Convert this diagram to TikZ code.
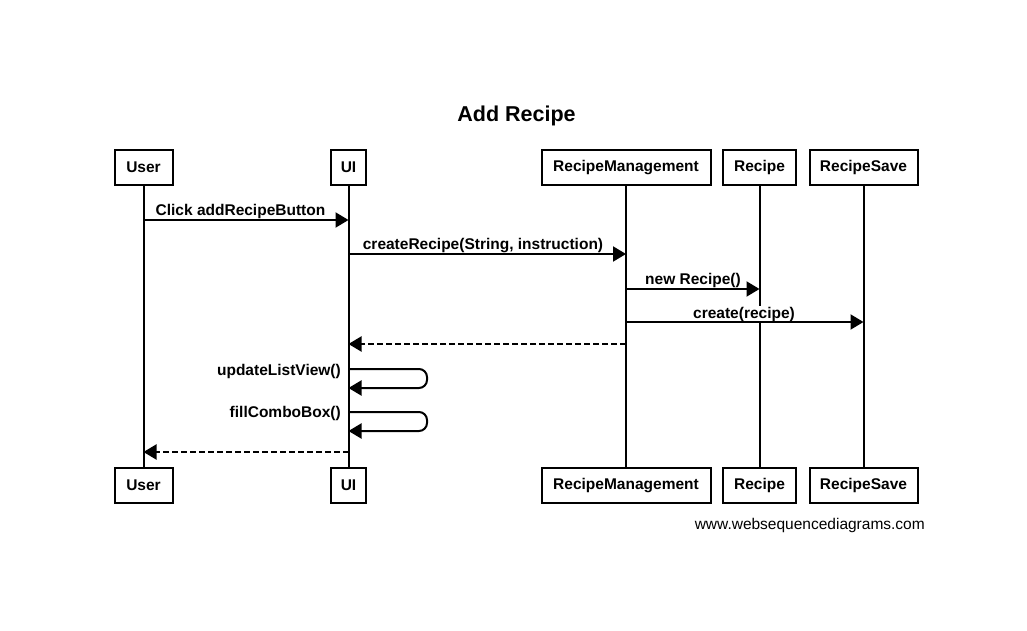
\documentclass[tikz,border=0pt]{standalone}
\usepackage{fontspec}
\setmainfont{Liberation Sans}
\usetikzlibrary{arrows.meta}
\begin{document}
\begin{tikzpicture}[x=1pt,y=-1pt,
  actor/.style={draw, line width=2pt, minimum height=35pt, inner sep=0pt, fill=white,
    font=\fontsize{15.5}{18}\selectfont\bfseries},
  life/.style={line width=2pt},
  msg/.style={line width=2pt, -{Triangle[length=13pt,width=15pt]}},
  ret/.style={msg, dash pattern=on 6pt off 3pt},
  lbl/.style={font=\fontsize{15.5}{18}\selectfont\bfseries, anchor=base, fill=white, inner sep=1pt},
]
\useasboundingbox (0,0) rectangle (1027,631);
\node[font=\fontsize{21.5}{24}\selectfont\bfseries] (title) at (516.5,115.5) {Add Recipe};

% top boxes
\node[actor, minimum width=58pt]  (userT) at (143.5,167.5) {User};
\node[actor, minimum width=35pt]  (uiT)   at (348.5,167.5) {UI};
\node[actor, minimum width=169pt] (rmT)   at (626,167.5) {RecipeManagement};
\node[actor, minimum width=73pt]  (recT)  at (759.5,167.5) {Recipe};
\node[actor, minimum width=108pt] (rsT)   at (863.5,167.5) {RecipeSave};
% bottom boxes
\node[actor, minimum width=58pt]  (userB) at (143.5,485.5) {User};
\node[actor, minimum width=35pt]  (uiB)   at (348.5,485.5) {UI};
\node[actor, minimum width=169pt] (rmB)   at (626,485.5) {RecipeManagement};
\node[actor, minimum width=73pt]  (recB)  at (759.5,485.5) {Recipe};
\node[actor, minimum width=108pt] (rsB)   at (863.5,485.5) {RecipeSave};

% lifelines
\draw[life] (userT.south) -- (userB.north);
\draw[life] (uiT.south) -- (uiB.north);
\draw[life] (rmT.south) -- (rmB.north);
\draw[life] (recT.south) -- (recB.north);
\draw[life] (rsT.south) -- (rsB.north);

% labels
\node[lbl] (l1) at (240.5,215) {Click addRecipeButton};
\node[lbl] (l2) at (483,249.5) {createRecipe(String, instruction)};
\node[lbl] (l3) at (693,284.5) {new Recipe()};
\node[lbl] (l4) at (744,318) {create(recipe)};
\node[lbl, anchor=base east] (l5) at (342,375) {updateListView()};
\node[lbl, anchor=base east] (l6) at (342,417.5) {fillComboBox()};

% messages
\draw[msg] (userT |- 0,220) -- (uiT |- 0,220);
\draw[msg] (uiT |- 0,254) -- (rmT |- 0,254);
\draw[msg] (rmT |- 0,289) -- (recT |- 0,289);
\draw[msg] (rmT |- 0,322) -- (rsT |- 0,322);
\draw[ret] (rmT |- 0,344) -- (uiT |- 0,344);
\draw[msg, rounded corners=8pt] (uiT |- 0,369) -- (427,369) -- (427,388) -- (uiT |- 0,388);
\draw[msg, rounded corners=8pt] (uiT |- 0,412) -- (427,412) -- (427,431) -- (uiT |- 0,431);
\draw[ret] (uiT |- 0,452) -- (userT |- 0,452);

\node[font=\fontsize{15.5}{18}\selectfont, anchor=base east, inner sep=0pt] (footer) at (925,529.5) {www.websequencediagrams.com};
\end{tikzpicture}
\end{document}
